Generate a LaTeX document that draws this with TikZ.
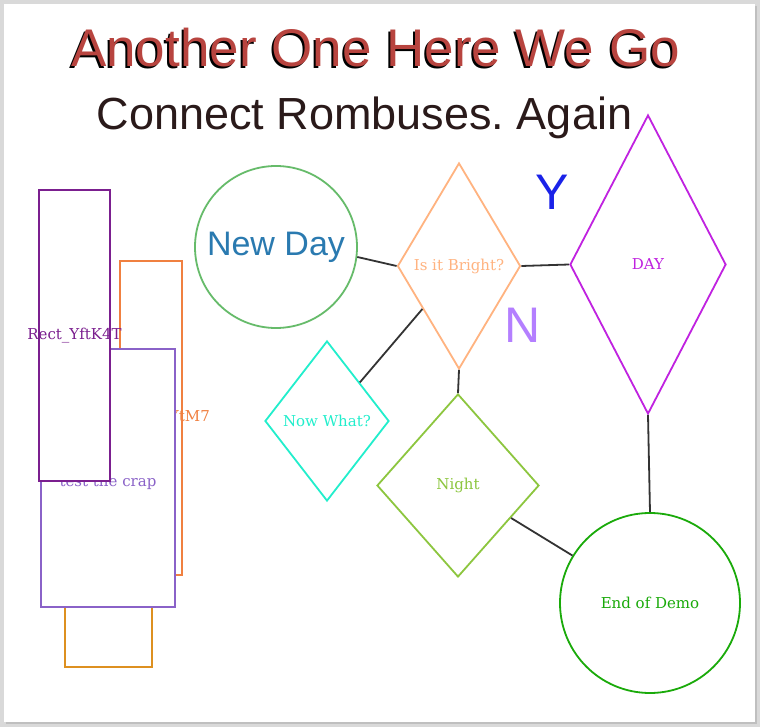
\documentclass[tikz,border=0pt]{standalone}
\usepackage{fontspec}
\setmainfont{DejaVu Serif}
\newfontfamily\headfont{Liberation Sans}
\usetikzlibrary{positioning, shapes.geometric, calc}
\frenchspacing

\definecolor{titlered}{HTML}{B8443F}
\definecolor{subdark}{HTML}{2A1A1A}
\definecolor{linegray}{HTML}{333333}
\definecolor{newgreen}{HTML}{66BB6A}
\definecolor{newblue}{HTML}{2A7AB0}
\definecolor{brightorange}{HTML}{FFB380}
\definecolor{daypurple}{HTML}{C022E0}
\definecolor{yblue}{HTML}{1A22E8}
\definecolor{nlilac}{HTML}{B47FFF}
\definecolor{nowcyan}{HTML}{22EECC}
\definecolor{nightgreen}{HTML}{8DC63F}
\definecolor{endgreen}{HTML}{1AAA0A}
\definecolor{rectplum}{HTML}{7B1F8F}
\definecolor{rectorange}{HTML}{F08040}
\definecolor{rectlav}{HTML}{8A62C8}
\definecolor{rectgold}{HTML}{DD9020}

\begin{document}
\begin{tikzpicture}[
        x=1pt, y=-1pt,
        shape line/.style={line width=1.8pt, fill=white, inner sep=0pt},
        rombus/.style={shape line, diamond},
        bubble/.style={shape line, circle},
        panel/.style={shape line, rectangle},
        small label/.style={font=\fontsize{15}{18}\selectfont},
        link/.style={draw=linegray, line width=1.8pt}
    ]

    % page frame
    \fill[gray!30] (0,0) rectangle (760,727);
    \fill[gray!50] (6,6) rectangle (757,724);
    \fill[white] (4,4) rectangle (755,722);
    \useasboundingbox (0,0) rectangle (760,727);

    % headings
    \node[anchor=base, font=\headfont\fontsize{53}{60}\selectfont, text=black] at (373.5,69) {Another One Here We Go};
    \node[anchor=base, font=\headfont\fontsize{53}{60}\selectfont, text=titlered] (Title) at (375.5,67) {Another One Here We Go};
    \node[anchor=base, font=\headfont\fontsize{45}{50}\selectfont, text=subdark] (Subtitle) at (364.5,130) {Connect Rombuses. Again};

    % stacked rectangles on the left
    \node[panel, draw=rectorange, minimum width=62pt, minimum height=314pt,
          label={[small label, text=rectorange]center:Rect\_Qw3YtM7}] (RectOrange) at (151,418) {};
    \node[panel, draw=rectgold, minimum width=87pt, minimum height=107pt] (RectGold) at (108.5,613.5) {};
    \node[panel, draw=rectlav, minimum width=134pt, minimum height=258pt,
          label={[small label, text=rectlav, yshift=-4pt]center:test the crap}] (RectLav) at (108,478) {};
    \node[panel, draw=rectplum, minimum width=71pt, minimum height=291pt,
          label={[small label, text=rectplum]center:Rect\_YftK4T}] (RectPlum) at (74.5,335.5) {};

    % flow shapes
    \node[bubble, draw=newgreen, minimum size=162pt, text=newblue,
          font=\headfont\fontsize{34}{40}\selectfont] (NewDay) at (276,247) {New Day};
    \node[rombus, draw=brightorange, aspect=0.6, minimum width=123pt, minimum height=206pt,
          small label, text=brightorange] (Bright) at (459,266) {Is it Bright?};
    \node[rombus, draw=daypurple, aspect=0.52, minimum width=156pt, minimum height=299pt,
          small label, text=daypurple] (Day) at (648,264.5) {DAY};
    \node[rombus, draw=nowcyan, aspect=0.78, minimum width=124pt, minimum height=160pt,
          small label, text=nowcyan] (NowWhat) at (327,421) {Now What?};
    \node[rombus, draw=nightgreen, aspect=0.89, minimum width=162pt, minimum height=183pt,
          small label, text=nightgreen] (Night) at (458,485.5) {Night};
    \node[bubble, draw=endgreen, minimum size=180pt,
          small label, text=endgreen] (EndDemo) at (650,603) {End of Demo};

    % branch letters
    \node[font=\headfont\fontsize{50}{56}\selectfont, text=yblue] (YesMark) at (552,192) {Y};
    \node[font=\headfont\fontsize{50}{56}\selectfont, text=nlilac] (NoMark) at (523,325) {N};

    % connectors
    \draw[link] (NewDay.-7) -- (Bright.west);
    \draw[link] (Bright.east) -- (Day.west);
    \draw[link] (Bright) -- (NowWhat);
    \draw[link] (Bright.south) -- (Night.north);
    \draw[link] (Night) -- (EndDemo);
    \draw[link] (Day.south) -- (EndDemo.north);

\end{tikzpicture}
\end{document}
